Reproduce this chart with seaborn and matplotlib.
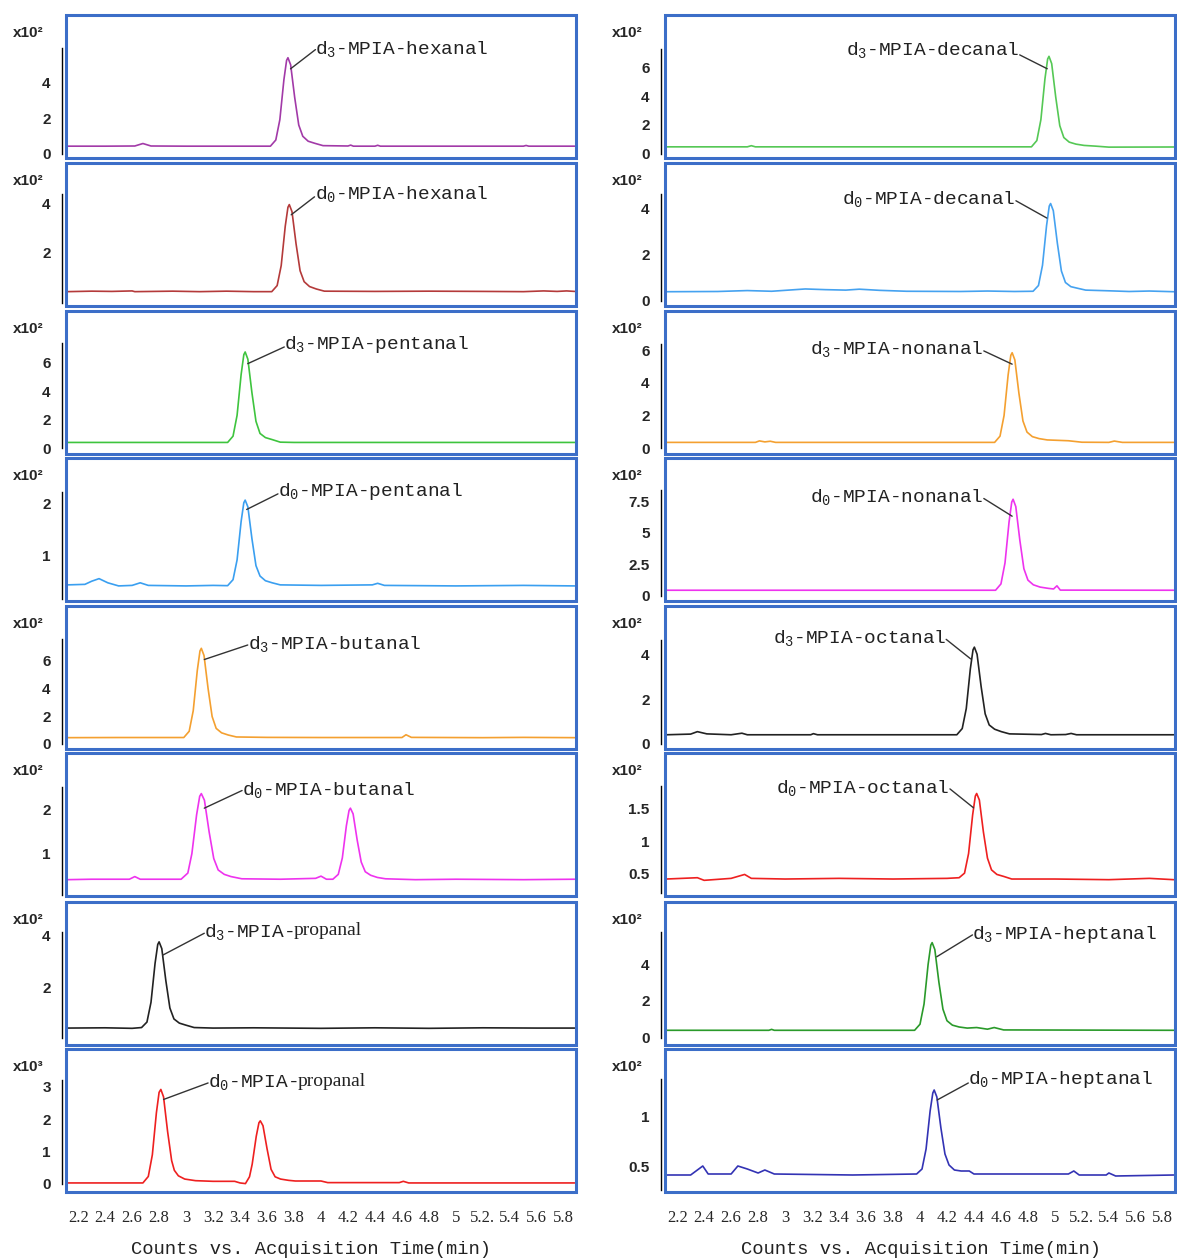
import matplotlib
matplotlib.use('Agg')
import matplotlib.pyplot as plt
from matplotlib.patches import Rectangle
import seaborn as sns

# retention time (min), counts in units of the panel multiplier
d3_hexanal = [(2.12, 0.42), (2.40, 0.42), (2.62, 0.43), (2.68, 0.57), (2.74, 0.43), (3.00, 0.42), (3.30, 0.42),
              (3.625, 0.42), (3.665, 0.77), (3.695, 1.92), (3.725, 4.18), (3.745, 5.28), (3.755, 5.43),
              (3.775, 5.03), (3.805, 3.18), (3.835, 1.62), (3.865, 0.98), (3.905, 0.70), (3.955, 0.58),
              (4.015, 0.45), (4.20, 0.43), (4.22, 0.48), (4.24, 0.42), (4.40, 0.42), (4.42, 0.47),
              (4.44, 0.42), (5.00, 0.42), (5.50, 0.42), (5.52, 0.46), (5.54, 0.42), (5.88, 0.42)]
d0_hexanal = [(2.12, 0.39), (2.30, 0.41), (2.45, 0.40), (2.60, 0.42), (2.62, 0.39), (2.90, 0.41), (3.10, 0.39),
              (3.30, 0.41), (3.50, 0.39), (3.635, 0.39), (3.675, 0.64), (3.705, 1.46), (3.735, 3.08),
              (3.755, 3.86), (3.765, 3.97), (3.785, 3.68), (3.815, 2.36), (3.845, 1.25), (3.875, 0.80),
              (3.915, 0.60), (3.965, 0.50), (4.025, 0.41), (4.40, 0.40), (4.80, 0.41), (5.20, 0.40),
              (5.50, 0.39), (5.65, 0.42), (5.75, 0.40), (5.82, 0.42), (5.88, 0.40)]
d3_pentanal = [(2.12, 0.42), (3.308, 0.42), (3.348, 0.86), (3.378, 2.32), (3.408, 5.18), (3.428, 6.57),
               (3.438, 6.76), (3.458, 6.25), (3.488, 3.91), (3.518, 1.90), (3.548, 1.05), (3.588, 0.76),
               (3.638, 0.62), (3.698, 0.44), (3.80, 0.42), (5.88, 0.42)]
d0_pentanal = [(2.12, 0.43), (2.25, 0.44), (2.30, 0.50), (2.355, 0.55), (2.42, 0.47), (2.50, 0.41), (2.60, 0.42),
               (2.66, 0.47), (2.72, 0.42), (3.00, 0.41), (3.20, 0.42), (3.308, 0.415), (3.348, 0.53),
               (3.378, 0.91), (3.408, 1.65), (3.428, 2.01), (3.438, 2.06), (3.458, 1.93), (3.488, 1.32),
               (3.518, 0.80), (3.548, 0.60), (3.588, 0.51), (3.638, 0.47), (3.698, 0.43), (4.00, 0.42),
               (4.38, 0.43), (4.42, 0.46), (4.47, 0.42), (5.00, 0.41), (5.50, 0.42), (5.88, 0.41)]
d3_butanal = [(2.12, 0.45), (2.50, 0.46), (2.983, 0.46), (3.023, 0.91), (3.053, 2.40), (3.083, 5.30),
              (3.103, 6.72), (3.113, 6.91), (3.133, 6.39), (3.163, 4.01), (3.193, 1.98), (3.223, 1.12),
              (3.263, 0.80), (3.313, 0.64), (3.373, 0.50), (3.60, 0.47), (4.00, 0.46), (4.60, 0.46),
              (4.63, 0.66), (4.67, 0.47), (5.20, 0.45), (5.50, 0.47), (5.88, 0.45)]
d0_butanal = [(2.12, 0.40), (2.30, 0.41), (2.58, 0.41), (2.62, 0.47), (2.66, 0.41), (2.963, 0.41), (3.013, 0.55),
              (3.043, 0.99), (3.078, 1.87), (3.101, 2.29), (3.113, 2.35), (3.136, 2.20), (3.171, 1.48),
              (3.205, 0.88), (3.238, 0.62), (3.283, 0.52), (3.333, 0.47), (3.413, 0.42), (3.70, 0.41),
              (3.96, 0.43), (4.00, 0.48), (4.04, 0.41), (4.088, 0.41), (4.128, 0.52), (4.158, 0.89),
              (4.188, 1.62), (4.208, 1.97), (4.218, 2.02), (4.238, 1.89), (4.268, 1.30), (4.298, 0.80),
              (4.328, 0.58), (4.368, 0.50), (4.418, 0.45), (4.478, 0.42), (4.70, 0.40), (5.00, 0.41),
              (5.50, 0.40), (5.88, 0.41)]
d3_propanal = [(2.12, 0.43), (2.40, 0.44), (2.60, 0.42), (2.67, 0.45), (2.71, 0.66), (2.74, 1.42), (2.77, 2.91),
               (2.79, 3.64), (2.80, 3.74), (2.82, 3.48), (2.85, 2.25), (2.88, 1.20), (2.91, 0.78),
               (2.95, 0.62), (3.00, 0.54), (3.06, 0.45), (3.20, 0.43), (3.50, 0.44), (4.00, 0.42),
               (4.40, 0.44), (4.80, 0.42), (5.20, 0.44), (5.60, 0.43), (5.88, 0.43)]
d0_propanal = [(2.12, 0.03), (2.68, 0.03), (2.72, 0.23), (2.75, 0.90), (2.78, 2.20), (2.80, 2.83), (2.813, 2.92),
               (2.833, 2.69), (2.863, 1.62), (2.893, 0.72), (2.913, 0.42), (2.943, 0.25), (2.99, 0.15),
               (3.07, 0.10), (3.20, 0.08), (3.36, 0.08), (3.40, 0.03), (3.44, 0.01), (3.47, 0.22),
               (3.49, 0.61), (3.52, 1.47), (3.54, 1.89), (3.55, 1.95), (3.57, 1.80), (3.60, 1.09),
               (3.63, 0.45), (3.66, 0.22), (3.70, 0.15), (3.76, 0.11), (3.81, 0.09), (4.00, 0.09),
               (4.05, 0.04), (4.58, 0.04), (4.61, 0.08), (4.65, 0.03), (5.88, 0.03)]

d3_decanal = [(2.12, 0.47), (2.72, 0.47), (2.75, 0.55), (2.78, 0.47), (4.826, 0.47), (4.866, 0.91),
              (4.896, 2.37), (4.926, 5.22), (4.946, 6.61), (4.956, 6.80), (4.976, 6.29), (5.006, 3.95),
              (5.036, 1.95), (5.066, 1.12), (5.106, 0.80), (5.156, 0.66), (5.216, 0.57), (5.30, 0.52),
              (5.40, 0.45), (5.88, 0.46)]
d0_decanal = [(2.12, 0.40), (2.50, 0.41), (2.72, 0.45), (2.90, 0.42), (3.15, 0.52), (3.30, 0.49), (3.45, 0.47),
              (3.55, 0.51), (3.70, 0.46), (3.90, 0.42), (4.30, 0.41), (4.50, 0.43), (4.70, 0.41),
              (4.838, 0.42), (4.878, 0.67), (4.908, 1.55), (4.938, 3.27), (4.958, 4.12), (4.968, 4.23),
              (4.988, 3.92), (5.018, 2.51), (5.048, 1.30), (5.078, 0.80), (5.118, 0.62), (5.168, 0.55),
              (5.228, 0.47), (5.40, 0.44), (5.55, 0.41), (5.70, 0.43), (5.88, 0.40)]
d3_nonanal = [(2.12, 0.37), (2.78, 0.37), (2.81, 0.46), (2.85, 0.40), (2.89, 0.44), (2.93, 0.37), (4.553, 0.37),
              (4.593, 0.75), (4.623, 2.01), (4.653, 4.48), (4.673, 5.69), (4.683, 5.85), (4.703, 5.41),
              (4.733, 3.38), (4.763, 1.68), (4.793, 1.00), (4.833, 0.72), (4.883, 0.60), (4.943, 0.52),
              (5.10, 0.47), (5.20, 0.38), (5.40, 0.37), (5.44, 0.45), (5.50, 0.37), (5.88, 0.37)]
d0_nonanal = [(2.12, 0.45), (4.56, 0.45), (4.60, 0.95), (4.63, 2.61), (4.66, 5.84), (4.68, 7.42), (4.69, 7.64),
              (4.71, 7.06), (4.74, 4.40), (4.77, 2.15), (4.80, 1.25), (4.84, 0.88), (4.89, 0.70),
              (4.95, 0.60), (4.99, 0.55), (5.015, 0.80), (5.04, 0.46), (5.88, 0.45)]
d3_octanal = [(2.12, 0.41), (2.30, 0.44), (2.35, 0.55), (2.42, 0.45), (2.60, 0.41), (2.68, 0.48), (2.72, 0.41),
              (3.19, 0.41), (3.21, 0.46), (3.24, 0.41), (4.273, 0.41), (4.313, 0.69), (4.343, 1.59),
              (4.373, 3.37), (4.393, 4.23), (4.403, 4.35), (4.423, 4.03), (4.453, 2.58), (4.483, 1.35),
              (4.513, 0.85), (4.553, 0.66), (4.603, 0.55), (4.663, 0.45), (4.90, 0.42), (4.93, 0.47),
              (4.97, 0.41), (5.08, 0.42), (5.12, 0.47), (5.16, 0.41), (5.88, 0.41)]
d0_octanal = [(2.12, 0.42), (2.35, 0.44), (2.40, 0.40), (2.60, 0.43), (2.70, 0.49), (2.75, 0.43), (3.00, 0.42),
              (3.40, 0.43), (3.80, 0.42), (4.20, 0.43), (4.29, 0.44), (4.33, 0.51), (4.36, 0.81),
              (4.39, 1.40), (4.41, 1.69), (4.42, 1.73), (4.44, 1.63), (4.47, 1.14), (4.50, 0.74),
              (4.53, 0.56), (4.57, 0.49), (4.62, 0.46), (4.68, 0.42), (5.00, 0.42), (5.40, 0.41),
              (5.70, 0.43), (5.88, 0.41)]
d3_heptanal = [(2.12, 0.40), (2.88, 0.40), (2.90, 0.45), (2.92, 0.40), (3.96, 0.40), (4.00, 0.73), (4.03, 1.83),
               (4.06, 3.98), (4.08, 5.03), (4.09, 5.17), (4.11, 4.79), (4.14, 3.02), (4.17, 1.55),
               (4.20, 0.92), (4.24, 0.68), (4.29, 0.58), (4.35, 0.52), (4.42, 0.55), (4.50, 0.46),
               (4.55, 0.55), (4.62, 0.42), (5.88, 0.40)]
d0_heptanal = [(2.12, 0.42), (2.30, 0.42), (2.36, 0.48), (2.39, 0.51), (2.43, 0.43), (2.60, 0.43), (2.65, 0.51),
               (2.72, 0.48), (2.80, 0.44), (2.85, 0.47), (2.92, 0.43), (3.50, 0.42), (3.975, 0.43),
               (4.015, 0.48), (4.045, 0.68), (4.075, 1.06), (4.095, 1.24), (4.105, 1.27), (4.125, 1.20),
               (4.155, 0.89), (4.185, 0.63), (4.215, 0.52), (4.255, 0.47), (4.305, 0.46), (4.365, 0.46),
               (4.40, 0.43), (5.10, 0.43), (5.14, 0.46), (5.18, 0.42), (5.38, 0.42), (5.40, 0.44),
               (5.45, 0.41), (5.88, 0.42)]

xtick_vals = [2.2, 2.4, 2.6, 2.8, 3.0, 3.2, 3.4, 3.6, 3.8, 4.0, 4.2, 4.4, 4.6, 4.8, 5.0, 5.2, 5.4, 5.6, 5.8]
xtick_labels = ['2.2', '2.4', '2.6', '2.8', '3', '3.2', '3.4', '3.6', '3.8', '4', '4.2', '4.4', '4.6', '4.8',
                '5', '5.2.', '5.4', '5.6', '5.8']

# (data, color, multiplier, ylim, yticks, y-axis line span,
#  label, label pos, label ha, leader start, leader end)
left_col = [
    (d3_hexanal, '#a23aa8', 'x10²', (-0.25, 7.85), [0, 2, 4], (0, 5.96),
     'd$_3$-MPIA-hexanal', (3.959, 5.93), 'left', (3.959, 5.89), (3.774, 4.80)),
    (d0_hexanal, '#b43a3a', 'x10²', (-0.20, 5.68), [2, 4], (-0.06, 4.40),
     'd$_0$-MPIA-hexanal', (3.952, 4.40), 'left', (3.952, 4.29), (3.779, 3.55)),
    (d3_pentanal, '#3ec43e', 'x10²', (-0.39, 9.63), [0, 2, 4, 6], (0, 7.40),
     'd$_3$-MPIA-pentanal', (3.728, 7.25), 'left', (3.728, 7.11), (3.457, 5.94)),
    (d0_pentanal, '#3a9ff0', 'x10²', (0.12, 2.87), [1, 2], (0.15, 2.22),
     'd$_0$-MPIA-pentanal', (3.681, 2.23), 'left', (3.681, 2.18), (3.449, 1.88)),
    (d3_butanal, '#f4a030', 'x10²', (-0.37, 9.97), [0, 2, 4, 6], (0, 7.57),
     'd$_3$-MPIA-butanal', (3.457, 7.25), 'left', (3.457, 7.15), (3.135, 6.10)),
    (d0_butanal, '#ee33ee', 'x10²', (0.03, 3.27), [1, 2], (0.06, 2.51),
     'd$_0$-MPIA-butanal', (3.415, 2.44), 'left', (3.415, 2.42), (3.135, 2.02)),
    (d3_propanal, '#222222', 'x10²', (-0.22, 5.27), [2, 4], (0.05, 4.13),
     'd$_3$-MPIA-', (3.135, 4.13), 'left', (3.135, 4.07), (2.827, 3.23)),
    (d0_propanal, '#ee2020', 'x10³', (-0.25, 4.17), [0, 1, 2, 3], (0, 3.20),
     'd$_0$-MPIA-', (3.163, 3.15), 'left', (3.163, 3.12), (2.833, 2.61)),
]
right_col = [
    (d3_decanal, '#55c855', 'x10²', (-0.31, 9.69), [0, 2, 4, 6], (0, 7.34),
     'd$_3$-MPIA-decanal', (4.739, 7.22), 'right', (4.739, 6.90), (4.943, 5.93)),
    (d0_decanal, '#45a2f0', 'x10²', (-0.22, 5.99), [0, 2, 4], (0, 4.63),
     'd$_0$-MPIA-decanal', (4.711, 4.41), 'right', (4.711, 4.35), (4.940, 3.60)),
    (d3_nonanal, '#f4a030', 'x10²', (-0.34, 8.40), [0, 2, 4, 6], (0, 6.37),
     'd$_3$-MPIA-nonanal', (4.473, 6.06), 'right', (4.473, 5.96), (4.683, 5.15)),
    (d0_nonanal, '#ee33ee', 'x10²', (-0.40, 10.9), [0, 2.5, 5, 7.5], (0, 8.38),
     'd$_0$-MPIA-nonanal', (4.473, 7.80), 'right', (4.473, 7.70), (4.683, 6.30)),
    (d3_octanal, '#222222', 'x10²', (-0.23, 6.20), [0, 2, 4], (0, 4.68),
     'd$_3$-MPIA-octanal', (4.194, 4.75), 'right', (4.194, 4.70), (4.376, 3.82)),
    (d0_octanal, '#ee2020', 'x10²', (0.16, 2.35), [0.5, 1, 1.5], (0.20, 1.85),
     'd$_0$-MPIA-octanal', (4.222, 1.81), 'right', (4.222, 1.80), (4.397, 1.51)),
    (d3_heptanal, '#2a9a2a', 'x10²', (-0.40, 7.38), [0, 2, 4], (0, 5.77),
     'd$_3$-MPIA-heptanal', (4.389, 5.63), 'left', (4.389, 5.59), (4.124, 4.40)),
    (d0_heptanal, '#3333b4', 'x10²', (0.25, 1.68), [0.5, 1], (0.27, 1.38),
     'd$_0$-MPIA-heptanal', (4.358, 1.37), 'left', (4.358, 1.34), (4.127, 1.17)),
]

sns.set_style('white')
plt.rcParams['font.family'] = ['Liberation Sans', 'DejaVu Sans']
plt.rcParams['mathtext.fontset'] = 'custom'
plt.rcParams['mathtext.rm'] = 'Liberation Mono'
plt.rcParams['mathtext.it'] = 'Liberation Mono'

W, H = 1177, 1260
fig = plt.figure(figsize=(W / 100, H / 100), dpi=100)
col_x = [66, 665]
row_top = [15, 163, 311, 458, 606, 753, 902, 1049]
pw, ph = 510, 143
frame_blue = '#3c6ec8'

for ci, col in enumerate([left_col, right_col]):
    for ri, p in enumerate(col):
        (pts, color, mult, ylim, yticks, span, label, lpos, lha, lstart, lend) = p
        ax = fig.add_axes([col_x[ci] / W, 1 - (row_top[ri] + ph) / H, pw / W, ph / H])
        xs = [a for a, b in pts]
        ys = [b for a, b in pts]
        sns.lineplot(x=xs, y=ys, ax=ax, color=color, lw=1.2, sort=False, estimator=None)
        ax.set_xlim(2.11, 5.89)
        ax.set_ylim(*ylim)

        for s in ['top', 'right', 'bottom']:
            ax.spines[s].set_visible(False)
        ax.spines['left'].set_color('black')
        ax.spines['left'].set_linewidth(1.0)
        ax.spines['left'].set_position(('outward', 3))
        ax.spines['left'].set_bounds(*span)
        ax.add_patch(Rectangle((0, 0), 1, 1, transform=ax.transAxes, fill=False,
                               ec=frame_blue, lw=2.2, clip_on=False, zorder=5))

        ax.set_yticks(yticks)
        ax.set_yticklabels(['%g' % v for v in yticks], fontweight='bold', fontsize=11)
        ax.tick_params(axis='y', direction='out', length=5, width=1, color='black', pad=3)
        ax.text(-0.105, 0.875, mult, transform=ax.transAxes, fontweight='bold', fontsize=11,
                ha='left', va='center')

        if ri == len(col) - 1:
            ax.spines['bottom'].set_position(('outward', 3))
            ax.set_xticks(xtick_vals)
            ax.set_xticklabels(xtick_labels, family='Liberation Serif', fontsize=12)
            ax.tick_params(axis='x', direction='out', length=4, width=1, color='black', pad=6)
        else:
            ax.set_xticks([])

        ax.annotate('', xy=lend, xytext=lstart,
                    arrowprops=dict(arrowstyle='-', color='#333333', lw=1.0, shrinkA=0, shrinkB=0))
        t = ax.text(lpos[0], lpos[1], label, ha=lha, va='center', family='Liberation Mono',
                    fontsize=14, color='#222222', zorder=6)
        if label.endswith('-'):
            ax.annotate('propanal', xy=(1, 0.55), xycoords=t, ha='left', va='center',
                        family='Liberation Serif', fontsize=14, color='#222222')

for cx in [311, 921]:
    fig.text(cx / W, 1 - 1249 / H, 'Counts vs. Acquisition Time(min)', ha='center', va='center',
             family='Liberation Mono', fontsize=13.5, color='#222222')

fig.savefig('out.png', dpi=100)
